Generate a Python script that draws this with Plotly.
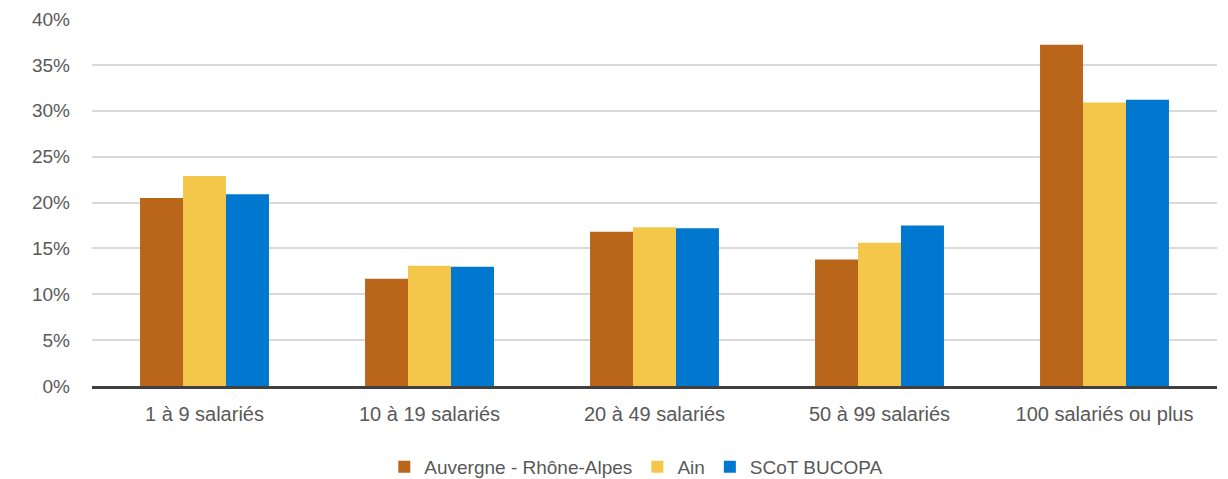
import plotly.graph_objects as go

categories = ["1 à 9 salariés", "10 à 19 salariés", "20 à 49 salariés", "50 à 99 salariés", "100 salariés ou plus"]
series_names = ["Auvergne - Rhône-Alpes", "Ain", "SCoT BUCOPA"]
ara = [20.5, 11.7, 16.8, 13.8, 37.2]
ain = [22.9, 13.1, 17.3, 15.6, 30.9]
scot = [20.9, 13.0, 17.2, 17.5, 31.2]
colors = ["#B9651A", "#F4C74B", "#0078CF"]
y_ticks = [0, 5, 10, 15, 20, 25, 30, 35, 40]
y_tick_labels = ["0%", "5%", "10%", "15%", "20%", "25%", "30%", "35%", "40%"]

fig = go.Figure()
for name, vals, col in zip(series_names, [ara, ain, scot], colors):
    fig.add_trace(go.Bar(x=categories, y=vals, name=name, marker=dict(color=col, line=dict(width=0))))

font_fam = "Liberation Sans, Arial, sans-serif"
fig.update_layout(
    width=1220, height=471,
    margin=dict(l=84, r=11, t=11, b=93, autoexpand=False),
    paper_bgcolor="white", plot_bgcolor="white",
    barmode="group", bargap=0.427, bargroupgap=0,
    font=dict(family=font_fam, size=18, color="#595959"),
    legend=dict(orientation="h", x=0.515, xanchor="center", xref="container",
                y=0.0255, yanchor="middle", yref="container",
                font=dict(size=19, color="#595959"), itemwidth=30, tracegroupgap=0),
    showlegend=True,
)
fig.update_yaxes(range=[0, 40], tickmode="array", tickvals=y_ticks, ticktext=y_tick_labels,
                 showgrid=True, gridcolor="#D9D9D9", gridwidth=1.5, zeroline=False, showline=False,
                 tickfont=dict(size=19, color="#595959"), ticklabelstandoff=21)
fig.update_xaxes(showline=True, linecolor="#404040", linewidth=3, showgrid=False,
                 tickfont=dict(size=20, color="#595959"), ticklabelstandoff=8)

fig.write_html("out.html")
